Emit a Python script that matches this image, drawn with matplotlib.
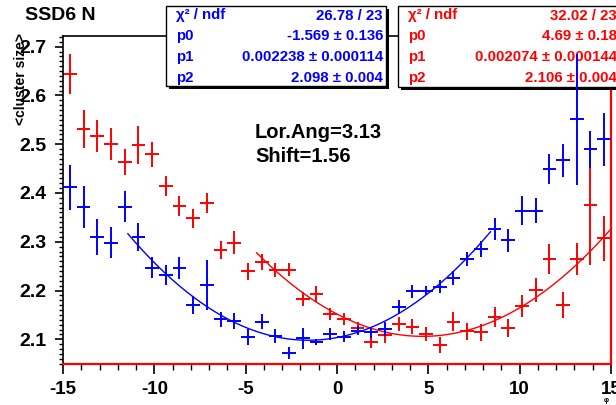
import numpy as np
import matplotlib
matplotlib.use("Agg")
import matplotlib.pyplot as plt
from matplotlib.patches import Rectangle
from matplotlib.ticker import MultipleLocator, FuncFormatter

plt.rcParams['font.family'] = ['Liberation Sans', 'DejaVu Sans']
plt.rcParams['font.weight'] = 'bold'

# histogram binning: 40 bins over [-15, 15]
phi_lo, phi_hi, n_bins = -15.0, 15.0, 40

# <cluster size> per bin, N side (red) and P side (blue)
red_y = [2.644, 2.531, 2.517, 2.500, 2.463, 2.498, 2.479, 2.414, 2.373, 2.348,
         2.379, 2.283, 2.298, 2.239, 2.258, 2.242, 2.243, 2.182, 2.193, 2.152,
         2.141, 2.123, 2.095, 2.108, 2.131, 2.126, 2.111, 2.088, 2.136, 2.116,
         2.114, 2.146, 2.123, 2.168, 2.201, 2.264, 2.170, 2.264, 2.375, 2.307]
red_err = [0.042, 0.039, 0.032, 0.033, 0.027, 0.039, 0.026, 0.021, 0.020, 0.020,
           0.020, 0.018, 0.024, 0.017, 0.016, 0.015, 0.014, 0.014, 0.016, 0.013,
           0.012, 0.012, 0.012, 0.015, 0.015, 0.015, 0.015, 0.016, 0.019, 0.018,
           0.018, 0.021, 0.018, 0.023, 0.024, 0.031, 0.027, 0.033, 0.123, 0.046]

blue_y = [2.412, 2.372, 2.310, 2.298, 2.372, 2.310, 2.247, 2.232, 2.246, 2.170,
          2.211, 2.141, 2.138, 2.105, 2.136, 2.107, 2.072, 2.102, 2.095, 2.111,
          2.105, 2.118, 2.114, 2.121, 2.166, 2.198, 2.200, 2.208, 2.226, 2.265,
          2.285, 2.326, 2.303, 2.364, 2.364, 2.449, 2.467, 2.551, 2.490, 2.510]
blue_err = [0.046, 0.043, 0.037, 0.032, 0.032, 0.028, 0.021, 0.021, 0.023, 0.018,
            0.051, 0.015, 0.016, 0.016, 0.015, 0.014, 0.012, 0.022, 0.006, 0.012,
            0.011, 0.010, 0.012, 0.014, 0.014, 0.014, 0.010, 0.013, 0.015, 0.014,
            0.016, 0.022, 0.023, 0.029, 0.025, 0.031, 0.034, 0.135, 0.038, 0.055]

# parabola fits: y = p2 + p1 * (x - p0)^2
blue_fit = {"chi2": "26.78 / 23", "p0": (-1.569, "0.136"), "p1": (0.002238, "0.000114"),
            "p2": (2.098, "0.004"), "range": (-11.45, 8.4)}
red_fit = {"chi2": "32.02 / 23", "p0": (4.69, "0.18"), "p1": (0.002074, "0.000144"),
           "p2": (2.106, "0.004"), "range": (-4.4, 15.0)}

W, H = 616, 405
fig = plt.figure(figsize=(W / 100, H / 100), dpi=100)


def fx(px):
    return px / W


def fy(py):
    return 1 - py / H


y_lo, y_hi = 2.0487, 2.7219
ax = fig.add_axes([fx(63), fy(364.3), fx(611) - fx(63), fy(36) - fy(364.3)])
ax.set_xlim(phi_lo, phi_hi)
ax.set_ylim(y_lo, y_hi)

width = (phi_hi - phi_lo) / n_bins
centers = phi_lo + width * (np.arange(n_bins) + 0.5)


def parabola(fit, x):
    return fit["p2"][0] + fit["p1"][0] * (x - fit["p0"][0]) ** 2


# N side (red)
ax.errorbar(centers, red_y, yerr=red_err, xerr=width / 2, fmt='none',
            ecolor='#ff0000', elinewidth=1.4, capsize=0, zorder=2)
xr = np.linspace(*red_fit["range"], 200)
ax.plot(xr, parabola(red_fit, xr), color='#ff0000', lw=1.0, zorder=2.2)
ax.plot([phi_hi, phi_hi], [y_lo, y_hi], color='#ff0000', lw=1.6,
        clip_on=False, zorder=2.6)
ax.plot([phi_lo, phi_hi], [y_lo, y_lo], color='#ff0000', lw=1.6,
        clip_on=False, zorder=2.6)

# P side (blue), drawn above the red stats box
ax.errorbar(centers, blue_y, yerr=blue_err, xerr=width / 2, fmt='none',
            ecolor='#0000ff', elinewidth=1.4, capsize=0, zorder=4)
xb = np.linspace(*blue_fit["range"], 200)
ax.plot(xb, parabola(blue_fit, xb), color='#0000ff', lw=1.0, zorder=4.2)

# axes styling
for s in ['top', 'right', 'left', 'bottom']:
    ax.spines[s].set_linewidth(1.2)
ax.xaxis.set_major_locator(MultipleLocator(5))
ax.xaxis.set_minor_locator(MultipleLocator(1))
ax.yaxis.set_major_locator(MultipleLocator(0.1))
ax.yaxis.set_minor_locator(MultipleLocator(0.01))
ax.tick_params(axis='x', which='major', direction='out', length=7, width=1.2,
               labelsize=13.5, pad=5)
ax.tick_params(axis='x', which='minor', direction='out', length=4, width=1.0)
ax.tick_params(axis='y', which='major', direction='out', length=6, width=1.2,
               labelsize=14, pad=6)
ax.tick_params(axis='y', which='minor', direction='out', length=3, width=1.0)
ax.xaxis.set_major_formatter(FuncFormatter(lambda v, p: f"{v:g}"))
ax.yaxis.set_major_formatter(FuncFormatter(lambda v, p: f"{v:.1f}"))
for lab in ax.get_xticklabels() + ax.get_yticklabels():
    lab.set_fontweight('bold')

# titles and annotations
fig.text(fx(25), fy(15), "SSD6 N", fontsize=14, fontweight='bold',
         ha='left', va='center')
fig.text(fx(21), fy(33), "<cluster size>", fontsize=10, fontweight='bold',
         rotation=90, ha='center', va='top')
fig.text(fx(606), fy(400), "φ", fontsize=5, ha='center', va='center')
fig.text(fx(255), fy(132.7), "Lor.Ang=3.13", fontsize=14.5, fontweight='bold',
         ha='left', va='center')
fig.text(fx(255), fy(156.7), "Shift=1.56", fontsize=14.5, fontweight='bold',
         ha='left', va='center')


def stats_box(x0, x1, y0, y1, fit, color, lab_x, val_x, z):
    shadow = Rectangle((fx(x0 + 3), fy(y1 + 3)), fx(x1) - fx(x0), fy(y0) - fy(y1),
                       transform=fig.transFigure, facecolor='black',
                       edgecolor='black', lw=0, clip_on=False, zorder=z)
    box = Rectangle((fx(x0), fy(y1)), fx(x1) - fx(x0), fy(y0) - fy(y1),
                    transform=fig.transFigure, facecolor='white',
                    edgecolor='black', lw=1.0, clip_on=False, zorder=z + 0.1)
    ax.add_artist(shadow)
    ax.add_artist(box)
    rows = [("χ² / ndf", fit["chi2"])]
    for k in ("p0", "p1", "p2"):
        v, e = fit[k]
        rows.append((k, f"{v:g} ± {e}"))
    for i, (lab, val) in enumerate(rows):
        yy = fy(15.5 + 20.8 * i)
        ax.text(fx(lab_x), yy, lab, transform=fig.transFigure, color=color,
                fontsize=10.8, fontweight='bold', ha='left', va='center',
                clip_on=False, zorder=z + 0.2)
        ax.text(fx(val_x), yy, val, transform=fig.transFigure, color=color,
                fontsize=10.8, fontweight='bold', ha='right', va='center',
                clip_on=False, zorder=z + 0.2)


stats_box(166, 386, 6, 86, blue_fit, '#0000ff', 176, 383, 5)
stats_box(398, 640, 6, 87, red_fit, '#ff0000', 408, 617, 3)

fig.savefig("out.png", dpi=100)
